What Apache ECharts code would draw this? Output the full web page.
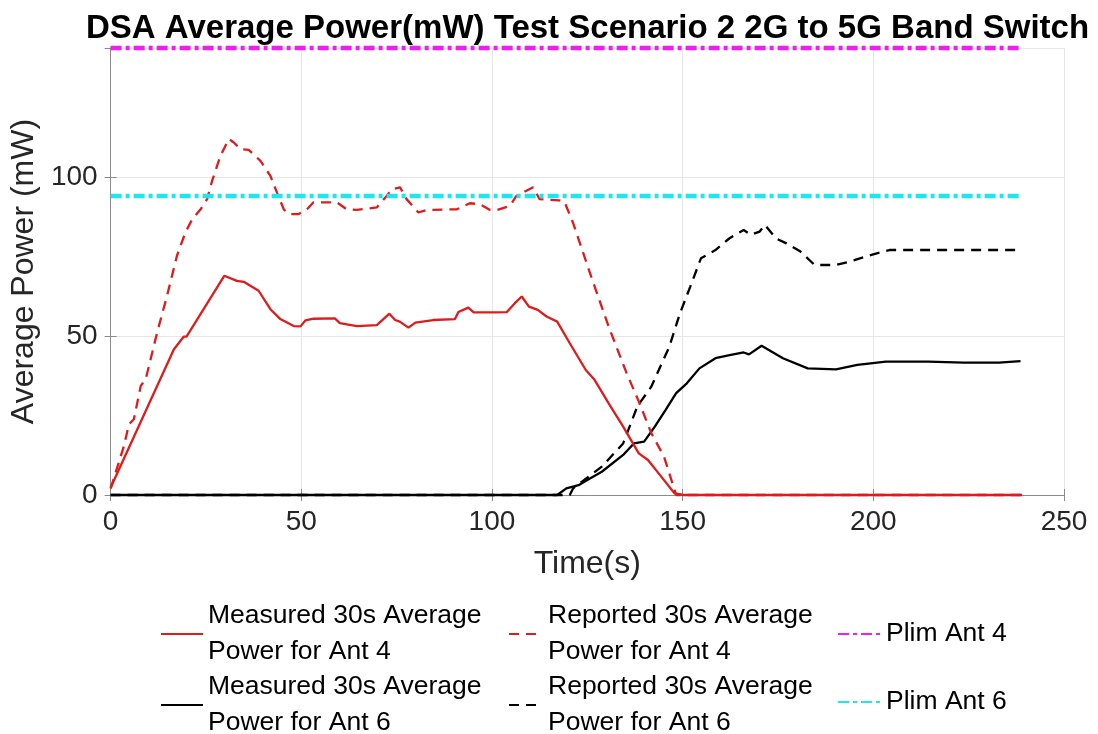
<!DOCTYPE html>
<html>
<head>
<meta charset="utf-8">
<script src="https://cdn.jsdelivr.net/npm/echarts@6/dist/echarts.min.js"></script>
<style>
html,body{margin:0;padding:0;background:#fff;}
#chart{width:1098px;height:734px;}
</style>
</head>
<body>
<div id="chart"></div>
<script>
// ---- data ----
const titleText = 'DSA Average Power(mW) Test Scenario 2 2G to 5G Band Switch';
const xTicks = [0, 50, 100, 150, 200, 250];
const yTicks = [0, 50, 100];

const measAnt4T = [0, 2.6, 16.6, 19.2, 19.9, 29.8, 33.1, 34.9, 38.8, 41.9, 44.5, 48, 49.8, 51.1, 53.2, 58.8, 60.1, 64.6, 69.8, 73.1, 74.6, 75.8, 78.1, 79.9, 84.6, 90.3, 91.2, 93.8, 95.2, 100.4, 103.9, 106, 107.8, 109.7, 112, 114.3, 117.1, 120.4, 124.6, 126.9, 130.6, 134.4, 138.5, 140.9, 143.7, 147.9, 150.2, 239];
const measAnt4V = [2.3, 9.1, 45.8, 49.8, 49.8, 68.9, 67.3, 67, 64.2, 58.4, 55.3, 53.1, 53, 54.9, 55.4, 55.5, 54, 53.1, 53.4, 57, 55, 54.5, 52.6, 54.2, 55, 55.3, 57.5, 58.9, 57.4, 57.4, 57.5, 60.3, 62.4, 59.2, 58.2, 56.1, 54.5, 47.7, 39.3, 36.2, 28.8, 21.5, 13.1, 11, 6.8, 0.5, 0, 0];

const repAnt4T = [0, 3.5, 4.8, 6.1, 7.9, 9.2, 12.2, 14.8, 17.4, 19.6, 21.4, 23.6, 25.3, 26.6, 28.8, 31, 32.3, 34, 36.2, 39.3, 41.9, 43.6, 45.4, 46.7, 49.3, 51.5, 53.2, 59.3, 61.9, 64.6, 69.8, 72.4, 73.7, 75.9, 77.6, 80.7, 82.9, 90.8, 94.2, 96.8, 99.5, 101.2, 104.7, 106.4, 110.8, 112.5, 117.6, 119, 121.3, 126, 130.6, 135.3, 138.5, 141.8, 145.1, 148.3, 239];
const repAnt4V = [2, 15.4, 22.2, 23.8, 34.3, 36.4, 51.1, 62.6, 75.2, 82.5, 86.7, 89.8, 93, 98.7, 106.6, 111.9, 110.8, 108.7, 108.5, 105, 100.3, 95.1, 89.8, 88.3, 88.3, 89.8, 92, 92, 89.8, 89.6, 90.4, 94, 96.1, 96.7, 93, 88.8, 89.6, 89.8, 91.7, 91.4, 89.6, 89.5, 90.9, 94, 96.7, 93, 92.6, 92.2, 85.4, 68.7, 52.9, 38.3, 29.4, 19.4, 12.1, 0, 0];

const measAnt6T = [0, 117.1, 119.5, 122.7, 125, 128.8, 134.4, 137.2, 139.9, 142.7, 145.5, 148.3, 151.1, 154.4, 158.6, 162.3, 166, 167.4, 170.7, 176.3, 182.8, 190.2, 195.8, 203.3, 214.4, 223.7, 233, 238.6];
const measAnt6V = [0, 0, 2.1, 3.1, 4.7, 7.3, 12.6, 16.2, 16.8, 21.5, 26.7, 32, 35.1, 39.8, 43, 44, 44.8, 44.2, 46.9, 43, 39.8, 39.5, 40.9, 41.9, 41.9, 41.6, 41.6, 42.1];

const repAnt6T = [0, 120.4, 121.3, 128.8, 134.4, 138.1, 141.8, 146.5, 149.3, 152, 154.8, 158.6, 162.3, 166, 167.9, 170.2, 171.6, 174.4, 177.2, 180.9, 184.6, 190.2, 193.9, 199.5, 204.2, 238.6];
const repAnt6V = [0, 0, 2.1, 8.9, 16.2, 27.8, 34.1, 46.6, 57.1, 65.5, 74.4, 77, 80.7, 83.3, 81.8, 82.8, 84.9, 80.7, 79.1, 76.5, 72.3, 72.3, 73.4, 75.5, 77, 77];

const plimT = [0, 239];
const plimAnt4V = [140.5, 140.5];
const plimAnt6V = [94, 94];

const seriesNames = [
  'Measured 30s Average Power for Ant 4',
  'Reported 30s Average Power for Ant 4',
  'Measured 30s Average Power for Ant 6',
  'Reported 30s Average Power for Ant 6',
  'Plim Ant 4',
  'Plim Ant 6'
];
// ---------------------------------------

const zip = (t, v) => t.map((x, i) => [x, v[i]]);
const FONT = "'Liberation Sans', Arial, Helvetica, sans-serif";
const RED = '#e01b1b', BLACK = '#000000', MAG = '#ee1ef0', CYAN = '#1de6ee';

const chart = echarts.init(document.getElementById('chart'), null, {renderer: 'canvas'});

function lineSeries(name, data, color, type, width, z) {
  return {
    name: name, type: 'line', data: data, symbol: 'none', showSymbol: false,
    xAxisIndex: 0, yAxisIndex: 0, clip: false, z: z,
    lineStyle: {color: color, width: width, type: type},
    itemStyle: {color: color},
    emphasis: {disabled: true}, animation: false
  };
}

const legendFmt = n => n.replace(' Power', '\nPower');
function legend(name, left, top, w) {
  return {
    data: [name], left: left, top: top, padding: 0, itemWidth: w, itemHeight: 14,
    formatter: legendFmt, selectedMode: false,
    itemStyle: {opacity: 0, color: 'rgba(0,0,0,0)', borderWidth: 0},
    textStyle: {fontSize: 26.5, lineHeight: 36, color: '#000', fontFamily: FONT}
  };
}

const axisCommon = {
  type: 'value', min: 0,
  axisLine: {show: true, lineStyle: {color: '#8a8a8a', width: 1}},
  axisTick: {show: true, inside: true, length: 6, lineStyle: {color: '#8a8a8a'}},
};

chart.setOption({
  backgroundColor: '#ffffff',
  animation: false,
  title: {
    text: titleText, left: 81, top: 7,
    textStyle: {fontSize: 33, fontWeight: 'bold', color: '#000', fontFamily: FONT}
  },
  grid: {left: 108, right: 34, top: 48, bottom: 239, show: false},
  legend: [
    legend(seriesNames[0], 160, 598, 42),
    legend(seriesNames[1], 508, 598, 34),
    legend(seriesNames[2], 160, 669, 42),
    legend(seriesNames[3], 508, 669, 34),
    legend(seriesNames[4], 837, 616, 43),
    legend(seriesNames[5], 837, 684, 43)
  ],
  xAxis: [
    Object.assign({}, axisCommon, {
      position: 'bottom', max: xTicks[xTicks.length - 1], interval: xTicks[1] - xTicks[0],
      name: 'Time(s)', nameLocation: 'middle', nameGap: 53,
      nameTextStyle: {fontSize: 32, color: '#262626', fontFamily: FONT},
      axisLabel: {fontSize: 28, color: '#262626', margin: 13, fontFamily: FONT},
      splitLine: {show: true, lineStyle: {color: '#e6e6e6', width: 1}}
    }),
    Object.assign({}, axisCommon, {
      position: 'top', max: xTicks[xTicks.length - 1], interval: xTicks[1] - xTicks[0],
      axisLabel: {show: false}, splitLine: {show: false}
    })
  ],
  yAxis: [
    Object.assign({}, axisCommon, {
      position: 'left', max: 140.5, interval: yTicks[1] - yTicks[0],
      name: 'Average Power (mW)', nameLocation: 'middle', nameGap: 59,
      nameTextStyle: {fontSize: 32, color: '#262626', fontFamily: FONT},
      axisLabel: {fontSize: 28, color: '#262626', margin: 13, fontFamily: FONT, showMaxLabel: false},
      splitLine: {show: true, lineStyle: {color: '#e6e6e6', width: 1}}
    }),
    Object.assign({}, axisCommon, {
      position: 'right', max: 140.5, interval: yTicks[1] - yTicks[0],
      axisLabel: {show: false}, splitLine: {show: false}
    })
  ],
  series: [
    lineSeries(seriesNames[0], zip(measAnt4T, measAnt4V), RED, 'solid', 2.3, 3),
    lineSeries(seriesNames[1], zip(repAnt4T, repAnt4V), RED, [10, 7], 2.3, 4),
    lineSeries(seriesNames[2], zip(measAnt6T, measAnt6V), BLACK, 'solid', 2.3, 2),
    lineSeries(seriesNames[3], zip(repAnt6T, repAnt6V), BLACK, [10, 7], 2.3, 2),
    lineSeries(seriesNames[4], zip(plimT, plimAnt4V), MAG, [11, 4, 4, 4], 4.5, 5),
    lineSeries(seriesNames[5], zip(plimT, plimAnt6V), CYAN, [11, 4, 4, 4], 4.5, 5)
  ]
});
</script>
</body>
</html>
